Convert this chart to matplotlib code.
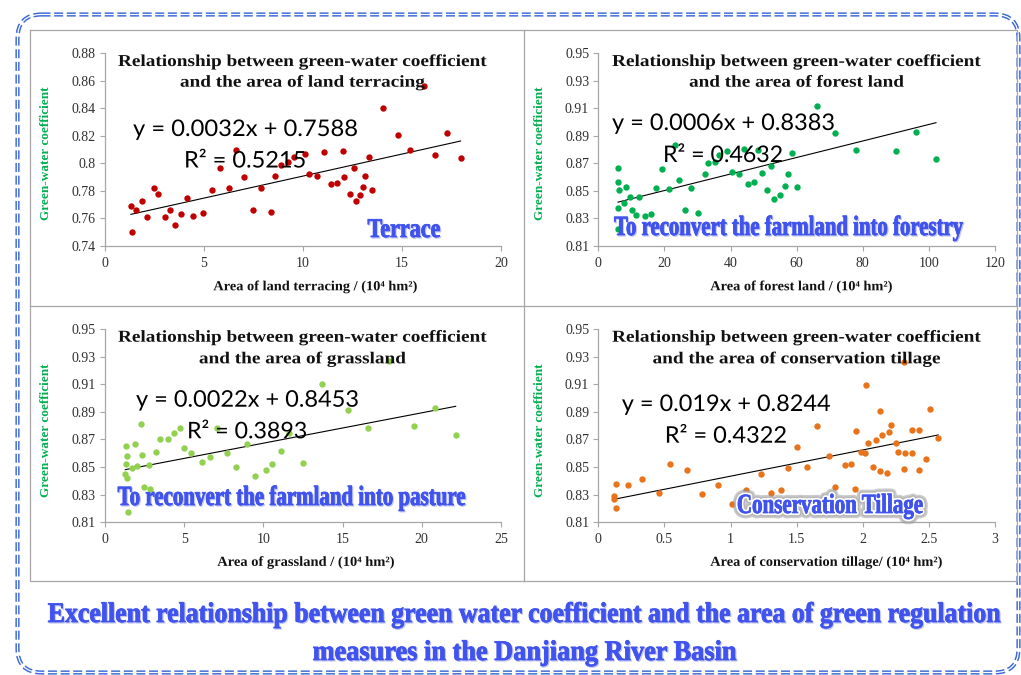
import numpy as np
import matplotlib
matplotlib.use("Agg")
import matplotlib.pyplot as plt
import matplotlib.colors as mcolors
from matplotlib.patches import FancyBboxPatch
from matplotlib.patheffects import AbstractPathEffect
from matplotlib.transforms import Affine2D
from matplotlib.ticker import FuncFormatter

# ---------------------------------------------------------------- data
terrace_area = [1.31, 1.38, 1.57, 1.85, 2.14, 2.49, 2.68, 3.01, 3.30, 3.55, 3.86, 4.14, 4.46,
                4.95, 5.39, 5.81, 6.28, 6.62, 7.00, 7.49, 7.88, 8.37, 8.60, 8.89, 9.24, 9.56,
                10.12, 10.29, 10.71, 11.08, 11.40, 11.72, 12.00, 12.05, 12.36, 12.56, 12.66,
                12.86, 13.03, 13.15, 13.33, 13.47, 14.06, 14.78, 15.42, 16.11, 16.68, 17.26, 17.96]
terrace_coef = [0.769, 0.750, 0.766, 0.773, 0.761, 0.782, 0.778, 0.761, 0.766, 0.755, 0.763, 0.775,
                0.762, 0.764, 0.781, 0.797, 0.782, 0.810, 0.790, 0.766, 0.782, 0.765, 0.791, 0.799,
                0.801, 0.805, 0.807, 0.792, 0.791, 0.808, 0.785, 0.786, 0.809, 0.790, 0.778, 0.797,
                0.773, 0.777, 0.783, 0.791, 0.805, 0.781, 0.840, 0.821, 0.810, 0.856, 0.806, 0.822,
                0.804]

forest_area = [5.95, 5.95, 6.25, 5.95, 6.05, 7.66, 8.37, 9.58, 10.08, 11.39, 12.40, 14.22, 15.93,
               17.44, 19.16, 21.28, 23.09, 24.50, 26.22, 27.93, 30.05, 32.17, 33.28, 35.29, 36.50,
               38.82, 40.33, 42.65, 43.96, 45.38, 46.99, 48.40, 49.51, 50.92, 52.13, 53.24, 55.06,
               56.57, 57.38, 58.59, 60.10, 66.05, 71.59, 77.95, 90.05, 96.10, 102.15]
forest_coef = [0.8666, 0.8562, 0.8504, 0.8378, 0.8220, 0.8412, 0.8531, 0.8453, 0.8364, 0.8323,
               0.8453, 0.8318, 0.8332, 0.8523, 0.8659, 0.8516, 0.8833, 0.8579, 0.8359, 0.8523,
               0.8340, 0.8623, 0.8700, 0.8707, 0.8758, 0.8790, 0.8637, 0.8623, 0.8807, 0.8548,
               0.8565, 0.8797, 0.8630, 0.8504, 0.8678, 0.8439, 0.8470, 0.8533, 0.8623, 0.8773,
               0.8526, 0.9116, 0.8918, 0.8799, 0.8792, 0.8928, 0.8729]

grass_area = [1.33, 1.39, 1.33, 1.28, 1.39, 1.45, 1.73, 1.92, 2.04, 2.25, 2.34, 2.46, 2.80, 2.86,
              3.24, 3.47, 3.98, 4.36, 4.71, 5.01, 5.43, 6.12, 6.61, 7.07, 7.70, 8.27, 8.96, 9.49,
              10.16, 10.56, 11.09, 11.64, 12.50, 13.72, 15.36, 16.58, 17.95, 19.51, 20.85, 22.14]
grass_coef = [0.8650, 0.8580, 0.8522, 0.8452, 0.8421, 0.8175, 0.8493, 0.8667, 0.8508, 0.8810,
              0.8585, 0.8358, 0.8515, 0.8339, 0.8609, 0.8706, 0.8706, 0.8745, 0.8786, 0.8636,
              0.8605, 0.8539, 0.8573, 0.8781, 0.8605, 0.8501, 0.8667, 0.8438, 0.8477, 0.8522,
              0.8619, 0.8749, 0.8532, 0.9104, 0.8914, 0.8786, 0.9268, 0.8795, 0.8930, 0.8730]

tillage_area = [0.116, 0.121, 0.131, 0.136, 0.224, 0.330, 0.459, 0.545, 0.673, 0.781, 0.908,
                1.011, 1.114, 1.228, 1.308, 1.384, 1.437, 1.502, 1.576, 1.656, 1.742, 1.790,
                1.868, 1.911, 1.939, 1.949, 1.986, 2.017, 2.022, 2.042, 2.077, 2.097, 2.130,
                2.133, 2.145, 2.186, 2.201, 2.216, 2.249, 2.269, 2.309, 2.312, 2.319, 2.370,
                2.370, 2.425, 2.425, 2.480, 2.511, 2.571]
tillage_coef = [0.8291, 0.8271, 0.8380, 0.8201, 0.8373, 0.8411, 0.8310, 0.8525, 0.8479, 0.8308,
                0.8368, 0.8235, 0.8337, 0.8452, 0.8312, 0.8334, 0.8491, 0.8646, 0.8498, 0.8800,
                0.8583, 0.8356, 0.8518, 0.8525, 0.8339, 0.8759, 0.8609, 0.8602, 0.9092, 0.8675,
                0.8503, 0.8696, 0.8906, 0.8472, 0.8735, 0.8455, 0.8757, 0.8805, 0.8672, 0.8609,
                0.9259, 0.8484, 0.8600, 0.8602, 0.8771, 0.8771, 0.8482, 0.8561, 0.8918, 0.8708]

# linear fits: slope, intercept, R squared
terrace_fit = (0.0032, 0.7588, 0.5215)
forest_fit = (0.0006, 0.8383, 0.4632)
grass_fit = (0.0022, 0.8453, 0.3893)
tillage_fit = (0.019, 0.8244, 0.4322)

terrace_xticks = [0, 5, 10, 15, 20]
forest_xticks = [0, 20, 40, 60, 80, 100, 120]
grass_xticks = [0, 5, 10, 15, 20, 25]
tillage_xticks = [0, 0.5, 1, 1.5, 2, 2.5, 3]
terrace_yticks = [0.74, 0.76, 0.78, 0.80, 0.82, 0.84, 0.86, 0.88]
other_yticks = [0.81, 0.83, 0.85, 0.87, 0.89, 0.91, 0.93, 0.95]

# ---------------------------------------------------------------- styling
W, H = 1021, 675
SERIF = ["Liberation Serif", "DejaVu Serif"]
SANS = ["Lato", "DejaVu Sans"]
BLUE_TEXT = "#4053EE"
BORDER_BLUE = "#3A68D8"
GRID_GREY = "#A6A6A6"

plt.rcParams["font.family"] = SERIF
plt.rcParams["lines.scale_dashes"] = False


class Condense(AbstractPathEffect):
    """Draw text glyphs rescaled: horizontally about the string centre,
    vertically about the baseline."""

    def __init__(self, sx=1.0, sy=1.0, offset=(0, 0), color=None, stroke=None, lw=0.0, alpha=None):
        super().__init__(offset)
        self.sx = sx
        self.sy = sy
        self.color = color
        self.stroke = stroke
        self.lw = lw
        self.alpha = alpha

    def draw_path(self, renderer, gc, tpath, affine, rgbFace=None):
        ext = tpath.get_extents()
        pts = affine.transform([[ext.x0, ext.y0], [ext.x1, ext.y1], [0.0, 0.0]])
        cx = 0.5 * (pts[0, 0] + pts[1, 0])
        oy = pts[2, 1]
        tr = (affine
              + Affine2D().translate(-cx, -oy).scale(self.sx, self.sy).translate(cx, oy)
              + self._offset_transform(renderer))
        gc0 = renderer.new_gc()
        gc0.copy_properties(gc)
        face = rgbFace if self.color is None else mcolors.to_rgba(self.color)
        if self.stroke is not None:
            gc0.set_foreground(self.stroke)
            gc0.set_linewidth(self.lw)
            gc0.set_joinstyle("round")
            face = mcolors.to_rgba(self.color if self.color is not None else self.stroke)
        else:
            gc0.set_linewidth(0.0)
        if self.alpha is not None:
            gc0.set_alpha(self.alpha)
        renderer.draw_path(gc0, tpath, tr, face)
        gc0.restore()

    def rescaled(self, sx, sy):
        return Condense(sx, sy, offset=self._offset, color=self.color, stroke=self.stroke,
                        lw=self.lw, alpha=self.alpha)


fig = plt.figure(figsize=(W / 100, H / 100), dpi=100)
fig.patch.set_facecolor("white")


def axes_rect(left, right, top, bottom):
    return [left / W, 1 - bottom / H, (right - left) / W, (bottom - top) / H]


def fmt(v, _pos=None):
    return "%g" % round(v, 3)


panels = [
    dict(rect=axes_rect(105, 501, 53.3, 246), x=terrace_area, y=terrace_coef, color="#C00000",
         fit=terrace_fit, xticks=terrace_xticks, yticks=terrace_yticks),
    dict(rect=axes_rect(598.3, 995, 53.3, 246), x=forest_area, y=forest_coef, color="#00B050",
         fit=forest_fit, xticks=forest_xticks, yticks=other_yticks),
    dict(rect=axes_rect(105, 501, 329, 522.3), x=grass_area, y=grass_coef, color="#92D050",
         fit=grass_fit, xticks=grass_xticks, yticks=other_yticks),
    dict(rect=axes_rect(598.3, 995, 329, 522.3), x=tillage_area, y=tillage_coef, color="#E8731A",
         fit=tillage_fit, xticks=tillage_xticks, yticks=other_yticks),
]

for p in panels:
    ax = fig.add_axes(p["rect"])
    ax.set_facecolor("none")
    ax.scatter(p["x"], p["y"], s=21, color=p["color"], linewidths=0, zorder=3, clip_on=False)
    slope, intercept, _r2 = p["fit"]
    xs = np.array([min(p["x"]), max(p["x"])])
    ax.plot(xs, slope * xs + intercept, color="black", lw=0.8, zorder=2)
    ax.set_xlim(p["xticks"][0], p["xticks"][-1])
    ax.set_ylim(p["yticks"][0], p["yticks"][-1])
    ax.set_xticks(p["xticks"])
    ax.set_yticks(p["yticks"])
    ax.xaxis.set_major_formatter(FuncFormatter(fmt))
    ax.yaxis.set_major_formatter(FuncFormatter(fmt))
    for side in ("top", "right"):
        ax.spines[side].set_visible(False)
    for side in ("left", "bottom"):
        ax.spines[side].set_color(GRID_GREY)
        ax.spines[side].set_linewidth(0.9)
    ax.tick_params(axis="both", direction="out", length=3.6, width=0.8, color=GRID_GREY,
                   labelsize=10, labelcolor="#303030")
    ax.tick_params(axis="y", pad=3.0)
    ax.tick_params(axis="x", pad=4.0)

# ---------------------------------------------------------------- overlay in pixel units
ov = fig.add_axes([0, 0, 1, 1])
ov.set_xlim(0, W)
ov.set_ylim(H, 0)
ov.axis("off")
ov.patch.set_alpha(0)

# outer rounded double dashed border
border_kw = dict(boxstyle="round,pad=0,rounding_size=24", facecolor="none", transform=ov.transData)
ov.add_patch(FancyBboxPatch((17.5, 14.5), 1001, 658, edgecolor=BORDER_BLUE, lw=3.0,
                            linestyle=(0, (6.5, 2.6)), **border_kw))
ov.add_patch(FancyBboxPatch((17.5, 14.5), 1001, 658, edgecolor="white", lw=0.9, **border_kw))

# grey frame around the four charts
frame_kw = dict(color=GRID_GREY, lw=0.9)
ov.plot([30, 1016.5, 1016.5, 30, 30], [30, 30, 581, 581, 30], **frame_kw)
ov.plot([523.7, 523.7], [30, 581], **frame_kw)
ov.plot([30, 1016.5], [305.7, 305.7], **frame_kw)

fitted = []  # (text, target width in px, extra path effects, keep glyph height)


def put(x, y, s, target=None, effects=None, keep_height=False, **kw):
    t = ov.text(x, y, s, zorder=10, **kw)
    if target is not None:
        fitted.append((t, target, effects or [], keep_height))
    return t


titles = [
    (301.6, 66.0, 86.7, "Relationship between green-water coefficient", "and the area of land terracing", 243),
    (795.7, 66.0, 86.7, "Relationship between green-water coefficient", "and the area of forest land", 213),
    (301.6, 341.7, 363.3, "Relationship between green-water coefficient", "and the area of grassland", 205),
    (795.7, 341.7, 363.3, "Relationship between green-water coefficient", "and the area of conservation tillage", 286),
]
for cx, b1, b2, l1, l2, w2 in titles:
    put(cx, b1, l1, target=367, ha="center", va="baseline", fontsize=12, fontweight="bold",
        color="#111111", family=SERIF)
    put(cx, b2, l2, target=w2, ha="center", va="baseline", fontsize=12, fontweight="bold",
        color="#111111", family=SERIF)

# trend-line equations
eq_pos = [(245, 136, 167.5, 224, 122), (723, 130, 162, 222, 120),
          (247, 406.7, 438.3, 222, 120), (725.8, 411, 442.7, 208, 122)]
for p, (cx, b1, b2, w1, w2) in zip(panels, eq_pos):
    slope, intercept, r2 = p["fit"]
    put(cx, b1, f"y = {slope}x + {intercept}", target=w1, ha="center", va="baseline",
        fontsize=16.5, color="black", family=SANS)
    put(cx, b2, f"R\u00b2 = {r2}", target=w2, ha="center", va="baseline",
        fontsize=16.5, color="black", family=SANS)

# axis labels
xlabels = [(315.8, 286.7, "Area of land terracing / (10\u2074 hm\u00b2)", 205),
           (801.7, 286.7, "Area of forest land / (10\u2074 hm\u00b2)", 183),
           (306.2, 562.3, "Area of grassland / (10\u2074 hm\u00b2)", 178),
           (826.7, 562.3, "Area of conservation tillage/ (10\u2074 hm\u00b2)", 233)]
for x, y, s, w in xlabels:
    put(x, y, s, target=w, ha="center", va="center", fontsize=10, fontweight="bold",
        color="#111111", family=SERIF)
for x, y in [(46, 153.3), (540, 153.3), (46, 430), (540, 430)]:
    ov.text(x, y, "Green-water coefficient", rotation=90, ha="center", va="center",
            fontsize=9.5, fontweight="bold", color="#00B050", family=SERIF, zorder=10)

# blue measure labels (tight, heavy serif)
shadow = [Condense(offset=(0.8, -0.8), color="#C3C7EC", stroke="#C3C7EC", lw=0.6),
          Condense(color=BLUE_TEXT, stroke=BLUE_TEXT, lw=0.55)]
glow = [Condense(color="#8C8C8C", stroke="#8C8C8C", lw=7.5, alpha=0.45),
        Condense(color="#B4B4B4", stroke="#B4B4B4", lw=5.2, alpha=0.8),
        Condense(color="white", stroke="white", lw=3.0),
        Condense(color=BLUE_TEXT, stroke=BLUE_TEXT, lw=0.55)]
blue_kw = dict(ha="center", va="baseline", fontweight="bold", color=BLUE_TEXT, family=SERIF)
put(404, 237, "Terrace", target=73, effects=shadow, keep_height=True, fontsize=19.5, **blue_kw)
put(788.8, 235, "To reconvert the farmland into forestry", target=349, effects=shadow,
    keep_height=True, fontsize=20, **blue_kw)
put(291.2, 505, "To reconvert the farmland into pasture", target=348, effects=shadow,
    keep_height=True, fontsize=20, **blue_kw)
put(829.7, 513, "Conservation Tillage", target=186, effects=glow, keep_height=True,
    fontsize=20, **blue_kw)

# bottom headline
put(526, 622, "Excellent relationship between green water coefficient and the area of green regulation",
    target=954, effects=shadow, keep_height=True, fontsize=20.5, **blue_kw)
put(524, 660, "measures in the Danjiang River Basin", target=424, effects=shadow,
    keep_height=True, fontsize=20.5, **blue_kw)

# bring each string to its intended width
renderer = fig.canvas.get_renderer()
for t, target, extra, keep_height in fitted:
    natural = t.get_window_extent(renderer).width
    ratio = target / natural
    if keep_height:
        # shrink the font so the layout width is right, then restore the glyph height
        size0 = t.get_fontsize()
        t.set_fontsize(size0 * ratio)
        sx, sy = 1.0, 1.0 / ratio
    else:
        sx, sy = ratio, 1.0
    effects = [e.rescaled(sx, sy) for e in extra]
    effects.append(Condense(sx, sy))
    t.set_path_effects(effects)

fig.savefig("out.png", dpi=100, facecolor="white")
